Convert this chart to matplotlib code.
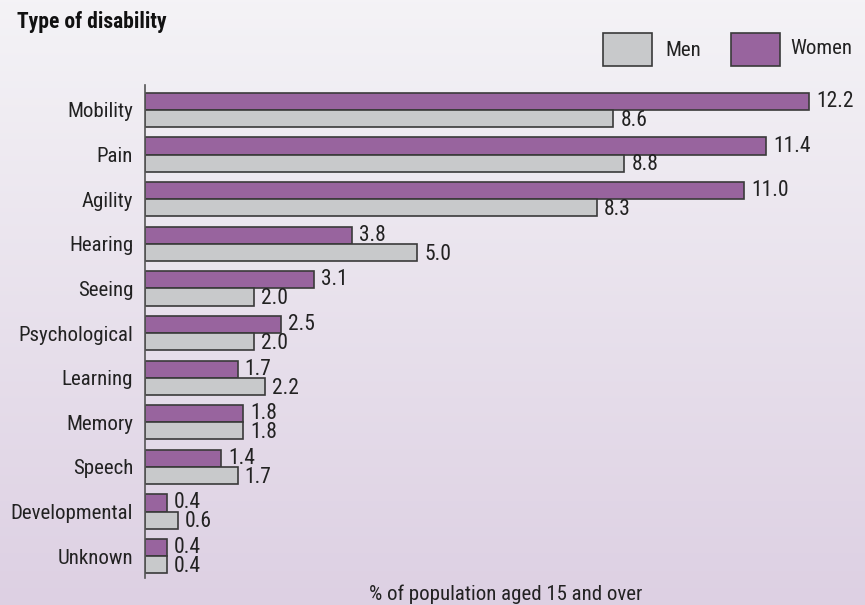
import matplotlib.pyplot as plt
import numpy as np
from matplotlib.patches import Rectangle

plt.rcParams['font.family'] = ['Roboto Condensed', 'Archivo Narrow', 'DejaVu Sans']

categories = ['Mobility', 'Pain', 'Agility', 'Hearing', 'Seeing', 'Psychological',
              'Learning', 'Memory', 'Speech', 'Developmental', 'Unknown']
women = [12.2, 11.4, 11.0, 3.8, 3.1, 2.5, 1.7, 1.8, 1.4, 0.4, 0.4]
men = [8.6, 8.8, 8.3, 5.0, 2.0, 2.0, 2.2, 1.8, 1.7, 0.6, 0.4]

purple = '#98649e'
grey = '#c8c9cb'
edge = '#3a3a3a'
txt = '#222222'
fs = 15

fig = plt.figure(figsize=(8.65, 6.05), dpi=100)

# gradient background
bg = fig.add_axes([0, 0, 1, 1], zorder=-1)
grad = np.linspace(0, 1, 256).reshape(-1, 1)
top = np.array([0.957, 0.953, 0.965])
bot = np.array([0.867, 0.816, 0.890])
img = top[None, None, :] * (1 - grad[:, :, None]) + bot[None, None, :] * grad[:, :, None]
bg.imshow(img, aspect='auto', extent=[0, 1, 0, 1])
bg.axis('off')

W, H = 865, 605
ax = fig.add_axes([145 / W, 1 - 578 / H, (853 - 145) / W, (578 - 85) / H])
ax.patch.set_alpha(0)

y = np.arange(len(categories))
bh = 0.385
ax.barh(y - bh / 2, women, height=bh, color=purple, edgecolor=edge, linewidth=1.2)
ax.barh(y + bh / 2, men, height=bh, color=grey, edgecolor=edge, linewidth=1.2)

for i, (w, m) in enumerate(zip(women, men)):
    ax.text(w + 0.13, i - bh / 2, f'{w:.1f}', va='center', ha='left', fontsize=15.5, color=txt)
    ax.text(m + 0.13, i + bh / 2 + 0.04, f'{m:.1f}', va='center', ha='left', fontsize=15.5, color=txt)

ax.set_xlim(0, 13)
ax.set_ylim(10.49, -0.56)
ax.set_yticks(y)
ax.set_yticklabels(categories, fontsize=fs, color=txt)
ax.tick_params(axis='y', length=0, pad=8.5)
ax.set_xticks([])
for s in ['top', 'right', 'bottom']:
    ax.spines[s].set_visible(False)
ax.spines['left'].set_color('#555555')
ax.spines['left'].set_linewidth(1.2)

fig.text(17 / W, 1 - 22 / H, 'Type of disability', fontsize=15.5, fontweight='bold',
         va='center', ha='left', color='#111111')
fig.text(506 / W, 1 - 594 / H, '% of population aged 15 and over', fontsize=fs,
         va='center', ha='center', color=txt)

# legend
for x0, col, lab, tx, ty in [(603, grey, 'Men', 665, 51), (731, purple, 'Women', 790, 48)]:
    fig.patches.append(Rectangle((x0 / W, 1 - 66 / H), 49 / W, 33 / H, transform=fig.transFigure,
                                 facecolor=col, edgecolor=edge, linewidth=1.2))
    fig.text(tx / W, 1 - ty / H, lab, fontsize=fs, va='center', ha='left', color=txt)

fig.savefig('out.png', dpi=100)
